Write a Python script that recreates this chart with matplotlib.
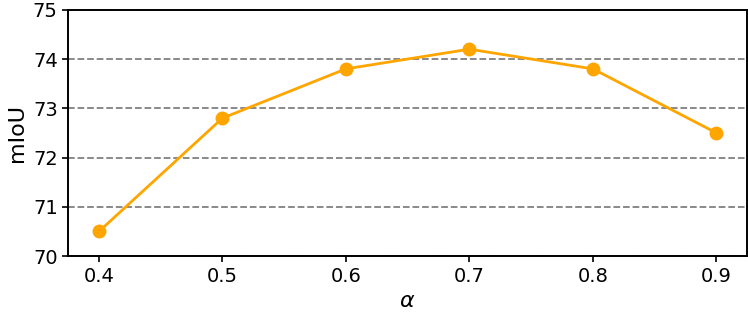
import matplotlib.pyplot as plt

# Data
alpha = [0.4, 0.5, 0.6, 0.7, 0.8, 0.9]
miou = [70.5, 72.8, 73.8, 74.2, 73.8, 72.5]
y_ticks = [70, 71, 72, 73, 74, 75]

fig, ax = plt.subplots(figsize=(7.48, 3.15), dpi=100)

ax.plot(alpha, miou, color='orange', marker='o', markersize=9, linewidth=2)

ax.set_ylim(70, 75)
ax.set_yticks(y_ticks)
ax.set_xticks(alpha)
ax.yaxis.grid(True, linestyle='--', color='gray', linewidth=1.3)
ax.set_axisbelow(True)

for sp in ax.spines.values():
    sp.set_linewidth(1.4)
ax.tick_params(labelsize=14, width=1.2, length=4)
ax.set_xlabel(r'$\alpha$', fontsize=16)
ax.set_ylabel('mIoU', fontsize=16)

fig.subplots_adjust(left=0.091, right=0.999, top=0.969, bottom=0.187)
plt.savefig("out.png", dpi=100)
